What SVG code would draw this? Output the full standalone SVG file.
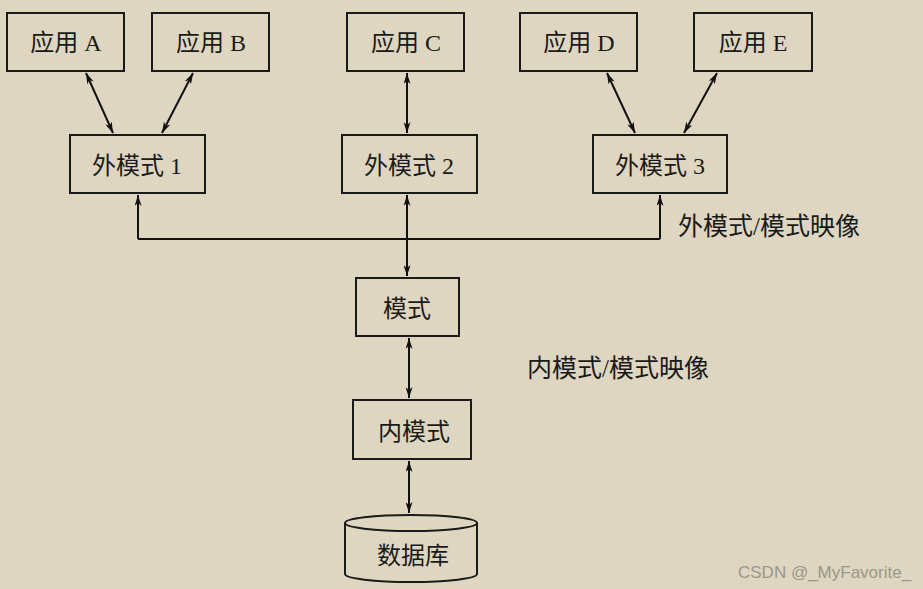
<svg xmlns="http://www.w3.org/2000/svg" width="923" height="589" viewBox="0 0 923 589">
<defs>
<marker id="ah" viewBox="0 0 11 7" refX="11" refY="3.5" markerWidth="11" markerHeight="7" markerUnits="userSpaceOnUse" orient="auto-start-reverse">
<path d="M0,0 L11,3.5 L0,7 L3,3.5 z" fill="#111"/>
</marker>
</defs>
<style>
.bg{fill:#ded6c0}
.box{fill:none;stroke:#1a1a1a;stroke-width:2}
.t{font-family:"Liberation Serif","Noto Sans CJK SC",serif;font-size:24px;fill:#1a1a1a;text-anchor:middle}
.lbl{font-family:"Liberation Serif","Noto Sans CJK SC",serif;font-size:25px;fill:#1a1a1a}
.c{fill:none;stroke:#111;stroke-width:2}
.wm{font-family:"Liberation Sans",Arial,sans-serif;font-size:17px;fill:#9a968c}
</style>
<rect class="bg" x="0" y="0" width="923" height="589"/>
<g id="appA"><rect class="box" x="7" y="13" width="117" height="58"/><text class="t" x="66" y="51">应用 A</text></g>
<g id="appB"><rect class="box" x="152" y="13" width="117" height="58"/><text class="t" x="211" y="51">应用 B</text></g>
<g id="appC"><rect class="box" x="347" y="13" width="117" height="58"/><text class="t" x="406" y="51">应用 C</text></g>
<g id="appD"><rect class="box" x="520" y="13" width="117" height="58"/><text class="t" x="579" y="51">应用 D</text></g>
<g id="appE"><rect class="box" x="694" y="13" width="118" height="58"/><text class="t" x="753" y="51">应用 E</text></g>
<g id="ext1"><rect class="box" x="70" y="135" width="135" height="58"/><text class="t" x="137" y="174">外模式 1</text></g>
<g id="ext2"><rect class="box" x="342" y="135" width="135" height="58"/><text class="t" x="409" y="174">外模式 2</text></g>
<g id="ext3"><rect class="box" x="593" y="135" width="134" height="58"/><text class="t" x="660" y="174">外模式 3</text></g>
<g id="schema"><rect class="box" x="356" y="278" width="103" height="58"/><text class="t" x="407" y="317">模式</text></g>
<g id="inner"><rect class="box" x="353" y="400" width="118" height="59"/><text class="t" x="414" y="440">内模式</text></g>
<g id="db">
<path class="box" d="M345,523 L345,574 A66,8 0 0 0 477,574 L477,523"/>
<ellipse class="box" cx="411" cy="523" rx="66" ry="8"/>
<text class="t" x="413" y="564">数据库</text>
</g>
<g id="connectors">
<line class="c" x1="86" y1="73" x2="113" y2="133" marker-start="url(#ah)" marker-end="url(#ah)"/>
<line class="c" x1="193" y1="73" x2="162" y2="133" marker-start="url(#ah)" marker-end="url(#ah)"/>
<line class="c" x1="407" y1="73" x2="407" y2="133" marker-start="url(#ah)" marker-end="url(#ah)"/>
<line class="c" x1="607" y1="73" x2="635" y2="133" marker-start="url(#ah)" marker-end="url(#ah)"/>
<line class="c" x1="717" y1="73" x2="684" y2="133" marker-start="url(#ah)" marker-end="url(#ah)"/>
<path class="c" d="M138,239 L660,239"/>
<line class="c" x1="138" y1="239" x2="138" y2="195" marker-end="url(#ah)"/>
<line class="c" x1="660" y1="239" x2="660" y2="195" marker-end="url(#ah)"/>
<line class="c" x1="407" y1="195" x2="407" y2="276" marker-start="url(#ah)" marker-end="url(#ah)"/>
<line class="c" x1="409" y1="338" x2="409" y2="398" marker-start="url(#ah)" marker-end="url(#ah)"/>
<line class="c" x1="409" y1="461" x2="409" y2="513" marker-start="url(#ah)" marker-end="url(#ah)"/>
</g>
<text class="lbl" x="678" y="235">外模式/模式映像</text>
<text class="lbl" x="527" y="377">内模式/模式映像</text>
<text class="wm" x="738" y="578">CSDN @_MyFavorite_</text>
</svg>
